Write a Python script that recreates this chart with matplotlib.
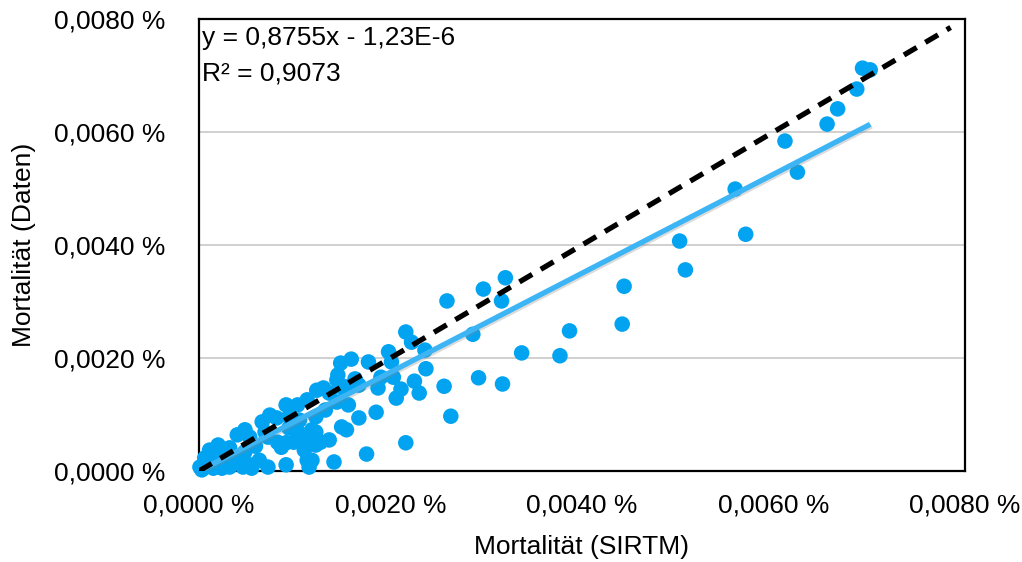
import matplotlib
matplotlib.use("Agg")
import matplotlib.pyplot as plt
import matplotlib.patheffects as pe
import numpy as np
from matplotlib.ticker import FuncFormatter

plt.rcParams['font.family'] = ['Liberation Sans', 'DejaVu Sans']

# Mortality values in percent
x_sirtm = [
    0.00693, 0.00701, 0.00687, 0.00667, 0.00656, 0.00612, 0.00625, 0.00560, 0.00571, 0.00502,
    0.00508, 0.00444, 0.00442, 0.00387, 0.00377, 0.00337, 0.00320, 0.00297, 0.00316, 0.00259,
    0.00286, 0.00317, 0.00292, 0.00263, 0.00256,
    0.00216, 0.00222, 0.00236, 0.00198, 0.00201, 0.00177, 0.00159, 0.00148, 0.00145, 0.00163,
    0.00150, 0.00190, 0.00203, 0.00187, 0.00237, 0.00225, 0.00211, 0.00230, 0.00206, 0.00123,
    0.00130, 0.00136, 0.00167, 0.00185, 0.00167, 0.00149, 0.00154, 0.00136, 0.00216, 0.00175,
    0.00141, 0.00122, 0.00118, 0.00122, 0.00118, 0.00113, 0.00103, 0.00091, 0.00074, 0.00066,
    0.00081, 0.00094, 0.00040, 0.00053, 0.00072, 0.00082, 0.00086, 0.00091, 0.00099, 0.00105,
    0.00112, 0.00122, 0.00127, 0.00110, 0.00113, 0.00115, 0.00020, 0.00011, 0.00032, 0.00006,
    0.00001, 0.00053, 0.00072, 0.00091, 0.00042, 0.00032, 0.00046, 0.00055, 0.00144, 0.00153,
    0.00009, 0.00017, 0.00024, 0.00028, 0.00015, 0.00024, 0.00003, 0.00063, 0.00048, 0.00059,
    0.00069, 0.00048, 0.00094, 0.00105, 0.00132, 0.00144, 0.00156,
]
y_daten = [
    0.00713, 0.00710, 0.00676, 0.00641, 0.00614, 0.00584, 0.00529, 0.00499, 0.00419, 0.00407,
    0.00356, 0.00327, 0.00260, 0.00248, 0.00204, 0.00209, 0.00342, 0.00322, 0.00301, 0.00301,
    0.00242, 0.00154, 0.00165, 0.00097, 0.00150,
    0.00246, 0.00228, 0.00214, 0.00211, 0.00193, 0.00193, 0.00198, 0.00191, 0.00170, 0.00163,
    0.00147, 0.00166, 0.00166, 0.00147, 0.00181, 0.00159, 0.00145, 0.00138, 0.00129, 0.00143,
    0.00147, 0.00138, 0.00152, 0.00104, 0.00094, 0.00078, 0.00073, 0.00055, 0.00050, 0.00030,
    0.00016, 0.00096, 0.00073, 0.00046, 0.00019, 0.00126, 0.00117, 0.00117, 0.00099, 0.00087,
    0.00094, 0.00096, 0.00064, 0.00060, 0.00060, 0.00051, 0.00042, 0.00050, 0.00051, 0.00067,
    0.00060, 0.00069, 0.00051, 0.00037, 0.00019, 0.00007, 0.00046, 0.00037, 0.00041, 0.00023,
    0.00007, 0.00011, 0.00007, 0.00011, 0.00025, 0.00007, 0.00007, 0.00005, 0.00161, 0.00149,
    0.00016, 0.00023, 0.00028, 0.00019, 0.00005, 0.00005, 0.00002, 0.00019, 0.00034, 0.00044,
    0.00069, 0.00073, 0.00076, 0.00090, 0.00108, 0.00122, 0.00117,
]

trend_slope = 0.8755
trend_intercept = -1.23e-6
r_squared_text = "R² = 0,9073"
equation_text = "y = 0,8755x - 1,23E-6"

tick_values = [0.0, 0.002, 0.004, 0.006, 0.008]
identity_end = 0.00785

fig = plt.figure(figsize=(10.22, 5.62), dpi=100)
ax = fig.add_axes([0.1947, 0.1619, 0.7495, 0.8043])

point_color = '#02A3F0'
trend_color = '#3DB5F5'

ax.scatter(x_sirtm, y_daten, s=125, color=point_color, edgecolors='none', zorder=3, clip_on=False)

xt = np.array([0.0, max(x_sirtm)])
ax.plot(xt, trend_slope * xt + trend_intercept, color=trend_color, lw=3.8, zorder=4,
        solid_capstyle='butt',
        path_effects=[pe.SimpleLineShadow(offset=(1.0, -1.2), shadow_color='#888888', alpha=0.3), pe.Normal()])

xi = np.array([0.0, identity_end])
ax.plot(xi, xi, color='black', lw=3.8, ls=(0, (2.8, 1.9)), zorder=5)

ax.set_xlim(0, 0.008)
ax.set_ylim(0, 0.008)
ax.set_xticks(tick_values)
ax.set_yticks(tick_values)

fmt = FuncFormatter(lambda v, p: f"{v:.4f} %".replace('.', ','))
ax.xaxis.set_major_formatter(fmt)
ax.yaxis.set_major_formatter(fmt)
ax.tick_params(axis='both', length=0, labelsize=19)
ax.tick_params(axis='x', pad=16)
ax.tick_params(axis='y', pad=24)

ax.yaxis.grid(True, color='#c8c8c8', lw=1.2)
ax.xaxis.grid(False)
ax.set_axisbelow(True)
for s in ax.spines.values():
    s.set_linewidth(1.6)
    s.set_color('black')

ax.set_xlabel("Mortalität (SIRTM)", fontsize=19, labelpad=13)
ax.set_ylabel("Mortalität (Daten)", fontsize=19, labelpad=13)

ax.text(0.004, 0.985, equation_text, transform=ax.transAxes, fontsize=19, va='top', ha='left')
ax.text(0.004, 0.905, r_squared_text, transform=ax.transAxes, fontsize=19, va='top', ha='left')

fig.savefig("out.png", dpi=100)
